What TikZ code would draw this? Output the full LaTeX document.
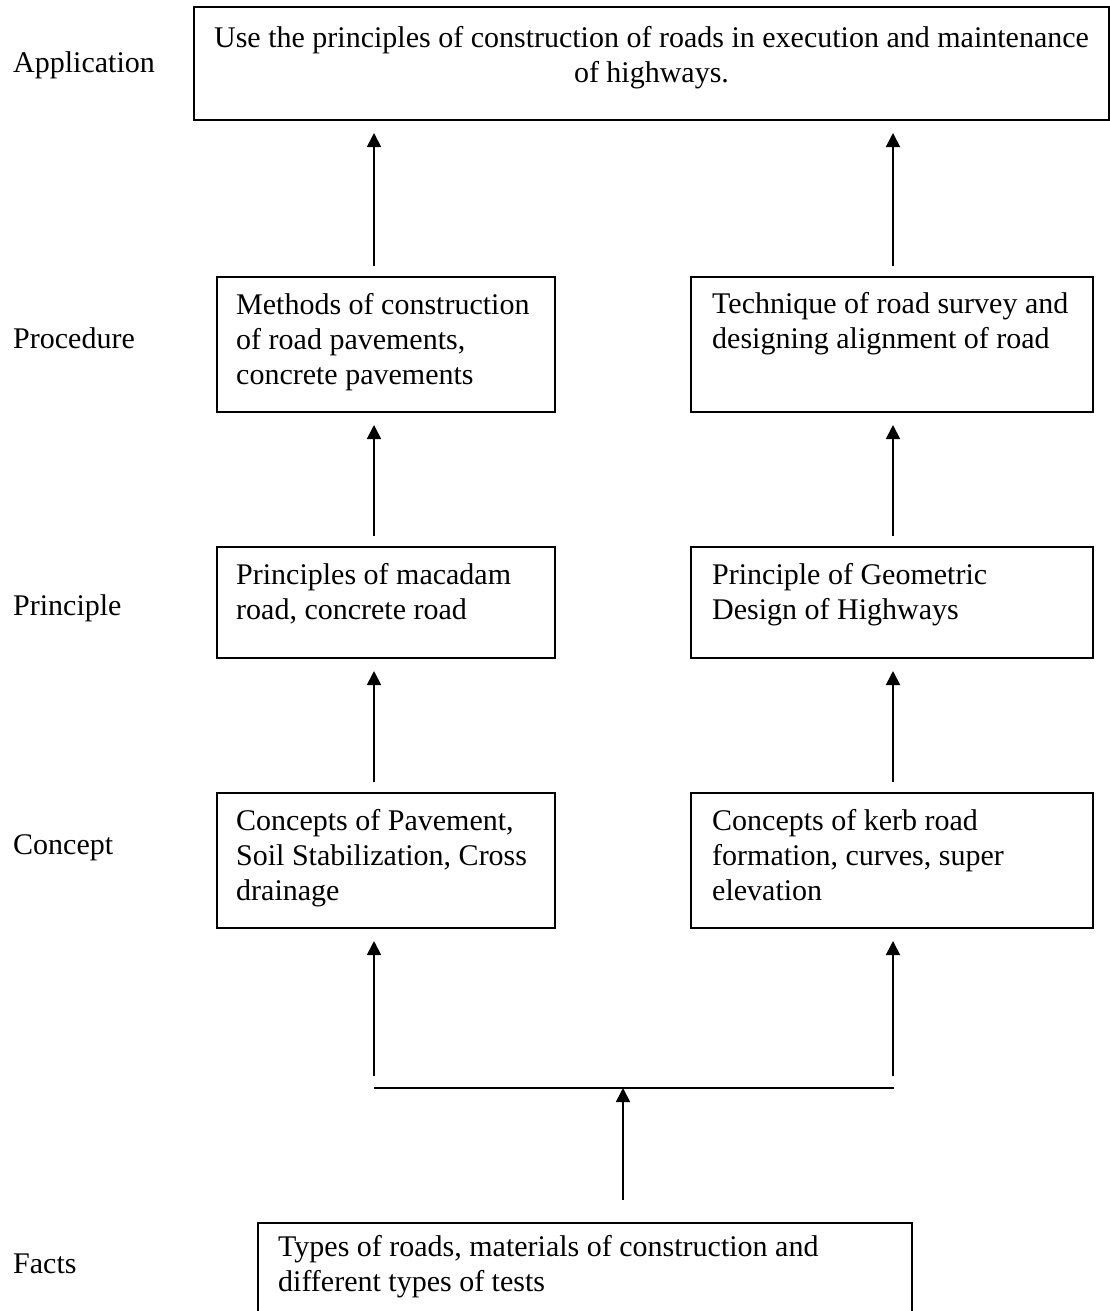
\documentclass[tikz,border=0pt]{standalone}
\usepackage{fontspec}
\setmainfont{Liberation Serif}
\usepackage{tikz}
\usetikzlibrary{arrows.meta}

\begin{document}
\begin{tikzpicture}[x=1pt,y=-1pt]
	
	\tikzset{box/.style={draw, line width=2pt, rectangle, inner sep=0pt}}
	\tikzset{txt/.style={anchor=base west, inner sep=0pt, align=flush left, text width=420pt, font=\fontsize{30}{35}\selectfont}}
	\tikzset{lbl/.style={anchor=base west, inner sep=0pt, font=\fontsize{30}{35}\selectfont}}
	\tikzset{up/.style={line width=1.8pt, -{Triangle[length=14pt,width=14pt]}, shorten >=12pt, shorten <=10pt}}
	
	\useasboundingbox (0,0) rectangle (1110,1311);
	\clip (0,0) rectangle (1110,1311);
	
	% level names
	\node[lbl] (lapp) at (13,73) {Application};
	\node[lbl] (lproc) at (13,348) {Procedure};
	\node[lbl] (lprinc) at (13,615) {Principle};
	\node[lbl] (lcon) at (13,854) {Concept};
	\node[lbl] (lfact) at (13,1273) {Facts};
	
	% boxes
	\node[box, minimum width=915pt, minimum height=113pt] (app) at (651.5,63.5) {};
	\node[box, minimum width=338pt, minimum height=135pt] (procL) at (386,344.5) {};
	\node[box, minimum width=402pt, minimum height=135pt] (procR) at (892,344.5) {};
	\node[box, minimum width=338pt, minimum height=111pt] (princL) at (386,602.5) {};
	\node[box, minimum width=402pt, minimum height=111pt] (princR) at (892,602.5) {};
	\node[box, minimum width=338pt, minimum height=135pt] (conL) at (386,860.5) {};
	\node[box, minimum width=402pt, minimum height=135pt] (conR) at (892,860.5) {};
	\node[box, minimum width=654pt, minimum height=117pt] (fact) at (585,1281.5) {};
	
	% texts
	\node[txt, anchor=base, align=flush center, text width=905pt] (tapp) at (651.5,48) {Use the principles of construction of roads in execution and maintenance\\of highways.};
	\node[txt] (tprocL) at (236,314) {Methods of construction\\of road pavements,\\concrete pavements};
	\node[txt] (tprocR) at (712,313) {Technique of road survey and\\designing alignment of road};
	\node[txt] (tprincL) at (236,584) {Principles of macadam\\road, concrete road};
	\node[txt] (tprincR) at (712,584) {Principle of Geometric\\Design of Highways};
	\node[txt] (tconL) at (236,830) {Concepts of Pavement,\\Soil Stabilization, Cross\\drainage};
	\node[txt] (tconR) at (712,830) {Concepts of kerb road\\formation, curves, super\\elevation};
	\node[txt, text width=620pt] (tfact) at (278,1256) {Types of roads, materials of construction and\\different types of tests};
	
	\coordinate (colL) at (374,0);
	\coordinate (colR) at (893,0);
	\coordinate (colM) at (623,0);
	\coordinate (split) at (623,1088);
	\coordinate (jL) at (374,1076);
	\coordinate (jR) at (893,1076);
	
	\draw[up] (colL |- procL.north) -- (colL |- app.south);
	\draw[up] (colR |- procR.north) -- (colR |- app.south);
	\draw[up] (colL |- princL.north) -- (colL |- procL.south);
	\draw[up] (colR |- princR.north) -- (colR |- procR.south);
	\draw[up] (colL |- conL.north) -- (colL |- princL.south);
	\draw[up] (colR |- conR.north) -- (colR |- princR.south);
	
	% joining line
	\draw[line width=1.8pt] (colL |- split) -- ([xshift=1pt]split -| colR);
	\draw[up, shorten <=0pt] (jL) -- (colL |- conL.south);
	\draw[up, shorten <=0pt] (jR) -- (colR |- conR.south);
	\draw[up, shorten <=22pt, shorten >=0pt] (colM |- fact.north) -- (split);
	
\end{tikzpicture}
\end{document}
